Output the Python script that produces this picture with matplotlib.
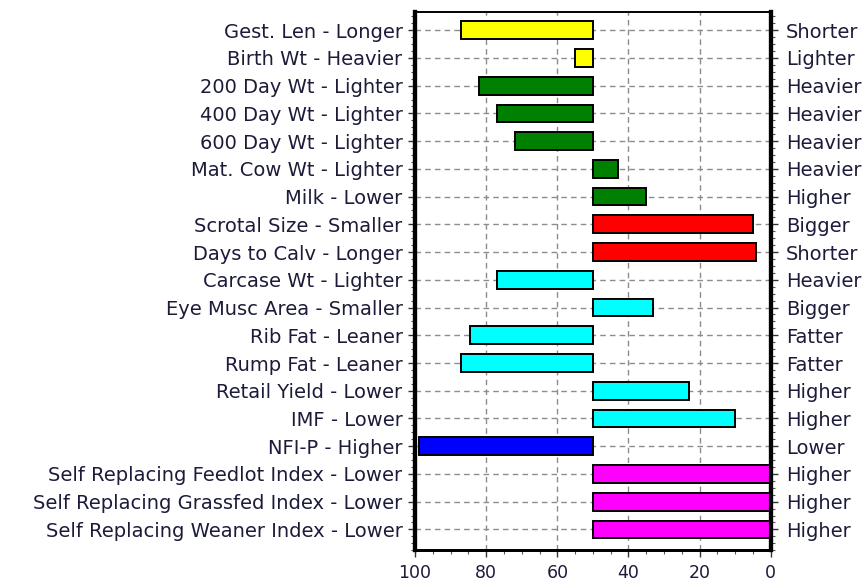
import numpy as np
from matplotlib import pyplot as plt
from matplotlib import rcParams

rcParams['font.family'] = ['DejaVu Sans']

#%% data
left_labels = ['Gest. Len - Longer', 'Birth Wt - Heavier', '200 Day Wt - Lighter',
               '400 Day Wt - Lighter', '600 Day Wt - Lighter', 'Mat. Cow Wt - Lighter',
               'Milk - Lower', 'Scrotal Size - Smaller', 'Days to Calv - Longer',
               'Carcase Wt - Lighter', 'Eye Musc Area - Smaller', 'Rib Fat - Leaner',
               'Rump Fat - Leaner', 'Retail Yield - Lower', 'IMF - Lower', 'NFI-P - Higher',
               'Self Replacing Feedlot Index - Lower', 'Self Replacing Grassfed Index - Lower',
               'Self Replacing Weaner Index - Lower']
right_labels = ['Shorter', 'Lighter', 'Heavier', 'Heavier', 'Heavier', 'Heavier', 'Higher',
                'Bigger', 'Shorter', 'Heavier', 'Bigger', 'Fatter', 'Fatter', 'Higher',
                'Higher', 'Lower', 'Higher', 'Higher', 'Higher']
percentile = [87, 55, 82, 77, 72, 43, 35, 5, 4, 77, 33, 84.5, 87, 23, 10, 99, 0, 0, 0]
bar_colors = ['#ffff00', '#ffff00', '#008000', '#008000', '#008000', '#008000', '#008000',
              '#ff0000', '#ff0000', '#00ffff', '#00ffff', '#00ffff', '#00ffff', '#00ffff',
              '#00ffff', '#0000ff', '#ff00ff', '#ff00ff', '#ff00ff']
mid = 50
xticks = [100, 80, 60, 40, 20, 0]

#%% plot
txtc = '#1c1c3a'
n = len(left_labels)
ypos = np.arange(n)
vals = np.array(percentile, dtype=float)

fig, ax = plt.subplots(figsize=(8.63, 5.81), dpi=100)
fig.subplots_adjust(left=0.481, right=0.893, top=0.979, bottom=0.053)

ax.barh(ypos, vals - mid, left=mid, height=0.64, color=bar_colors,
        edgecolor='black', linewidth=1.4, zorder=3)

ax.set_xlim(100, 0)
ax.set_ylim(n - 0.38, -0.65)
ax.set_xticks(xticks)
ax.set_xticks(np.arange(0, 100.1, 5), minor=True)
ax.set_xticklabels([str(x) for x in xticks], fontsize=12.5, color=txtc)

ax.set_yticks(ypos)
ax.set_yticks(np.arange(-0.5, n, 0.25), minor=True)
ax.set_yticklabels(left_labels, fontsize=14, color=txtc)
ax.tick_params(axis='both', which='major', direction='out', length=5, width=1, colors='#333333',
               labelcolor=txtc)
ax.tick_params(axis='y', which='major', pad=4)
ax.tick_params(axis='x', which='major', pad=5)
ax.tick_params(axis='both', which='minor', direction='out', length=3, width=0.8, colors='#555555')

ax.grid(True, which='major', linestyle=(0, (4, 3)), color='#8c8c8c', linewidth=1, zorder=0)
ax.set_axisbelow(True)

ax2 = ax.twinx()
ax2.set_ylim(ax.get_ylim())
ax2.set_yticks(ypos)
ax2.set_yticks(np.arange(-0.5, n, 0.25), minor=True)
ax2.set_yticklabels(right_labels, fontsize=14, color=txtc)
ax2.tick_params(axis='y', which='major', direction='out', length=5, width=1, colors='#333333',
                labelcolor=txtc, pad=6)
ax2.tick_params(axis='y', which='minor', direction='out', length=3, width=0.8, colors='#555555')

for a in (ax, ax2):
    a.spines['left'].set_linewidth(3)
    a.spines['right'].set_linewidth(3)
    a.spines['bottom'].set_linewidth(2)
    a.spines['top'].set_linewidth(1.2)

fig.savefig('out.png', dpi=100)
plt.close()
